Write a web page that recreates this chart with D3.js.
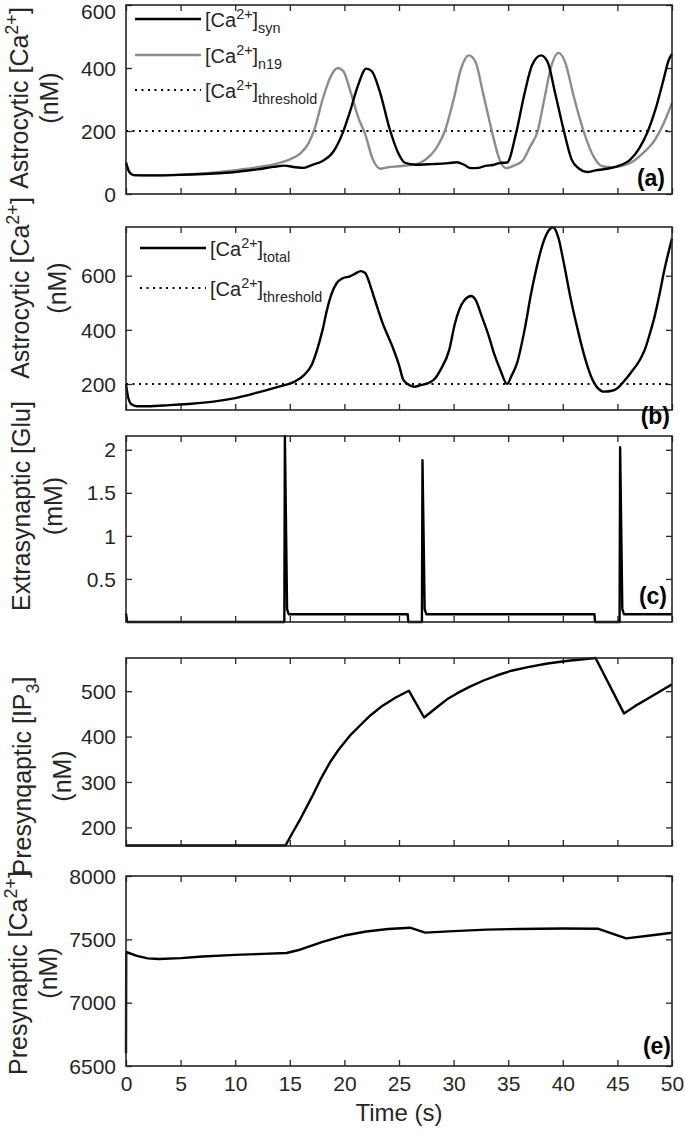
<!DOCTYPE html>
<html>
<head>
<meta charset="utf-8">
<script src="https://cdn.jsdelivr.net/npm/d3@7"></script>
<style>
  body { margin: 0; background: #fff; }
  svg { display: block; font-family: "Liberation Sans", Arial, Helvetica, sans-serif; }
</style>
</head>
<body>
<div id="chart"></div>
<script>
// time axis
const timeTicks = [0, 5, 10, 15, 20, 25, 30, 35, 40, 45, 50];
const threshold = 200;

// (a) astrocytic Ca2+, synaptic and n19
const caSyn = [[0,100],[0.3,70],[0.7,60],[2,59],[4,60],[6,62],[8,65],[10,70],[12,78],[13.5,86],[14.5,90],[15.5,85],[16.3,83],[17,92],[18,105],[19,135],[19.8,190],[20.5,260],[21.2,340],[22,398],[22.5,390],[23.2,330],[24.2,200],[25,125],[25.5,100],[26.5,93],[28,95],[29.5,98],[30.3,101],[31,92],[31.6,82],[32.3,83],[33,90],[33.6,92],[34.2,98],[34.9,100],[35.7,190],[36.5,320],[37.2,410],[38,440],[38.6,420],[39.3,320],[40.1,200],[40.8,110],[41.5,80],[42.2,70],[43,75],[44,80],[45,88],[46.2,110],[47,145],[47.8,200],[48.5,270],[49.2,360],[49.7,425],[50,445]];
const caN19 = [[0,100],[0.3,70],[0.7,60],[3,59],[6,63],[9,72],[12,85],[14,98],[15,110],[16,130],[16.7,160],[17.3,210],[18,300],[18.7,370],[19.4,400],[19.9,390],[20.6,320],[21.3,240],[21.9,190],[22.6,110],[23.3,80],[24,85],[25,88],[26,92],[27,100],[27.8,120],[28.5,150],[29.2,200],[30,300],[30.7,400],[31.4,440],[32,420],[32.7,320],[33.5,200],[34.2,110],[34.8,82],[35.5,90],[36.3,105],[37,150],[37.7,200],[38.3,300],[38.9,400],[39.6,448],[40.2,420],[41,310],[41.9,200],[42.8,120],[43.6,88],[44.5,85],[45.5,90],[46.5,105],[47.5,135],[48.3,165],[48.9,200],[49.5,245],[50,290]];

// (b) astrocytic Ca2+ total
const caTotal = [[0,200],[0.2,150],[0.5,125],[1,118],[2,118],[4,122],[6,127],[8,135],[10,148],[12,168],[14,190],[15.5,210],[16.3,233],[17,270],[17.5,326],[18,400],[18.4,473],[18.8,530],[19.3,573],[19.8,590],[20.5,598],[21,608],[21.5,617],[21.9,610],[22.4,560],[22.7,522],[23.5,425],[24.4,338],[25,270],[25.4,215],[26,195],[26.4,190],[27,196],[27.6,202],[28.3,220],[28.8,252],[29.6,326],[30.1,420],[30.5,473],[31,510],[31.6,525],[32,512],[32.6,448],[33.2,380],[33.7,313],[34.3,250],[34.9,200],[35.3,230],[35.8,276],[36.5,400],[37.1,535],[37.6,630],[38,695],[38.6,760],[39.1,779],[39.6,740],[40.1,645],[40.7,520],[41.3,412],[42,300],[42.6,227],[43.2,185],[43.8,172],[44.5,175],[45,184],[45.6,210],[46.2,240],[47,285],[47.5,326],[48,390],[48.4,448],[48.9,540],[49.3,621],[49.7,690],[50,738]];

// (c) extrasynaptic glutamate
const glu = [[0,0.1],[0.1,0],[14.5,0],[14.55,2.16],[14.75,0.15],[14.9,0.09],[25.8,0.09],[25.85,0],[27.1,0],[27.15,1.88],[27.35,0.15],[27.5,0.09],[42.9,0.09],[42.95,0],[45.2,0],[45.25,2.03],[45.45,0.15],[45.6,0.09],[50,0.09]];

// (d) presynaptic IP3
const ip3 = [[0,160],[14.6,160],[15.2,186],[16,220],[17,266],[17.8,305],[18.7,344],[19.5,372],[20.5,402],[21.5,426],[22.4,447],[23.5,468],[24.7,486],[25.9,501],[27.3,442],[28.5,465],[29.4,482],[30.3,495],[31.5,510],[32.8,524],[34,535],[35.3,545],[36.8,553],[38.6,561],[40.5,567],[43,573],[45.6,451],[46.6,467],[47.8,484],[49,501],[50,515]];

// (e) presynaptic Ca2+
const caPre = [[0,6600],[0.02,7400],[1,7370],[2,7350],[3,7345],[5,7352],[7,7365],[10,7377],[12.5,7385],[14.7,7392],[16,7420],[18,7480],[20,7530],[22,7562],[24,7582],[26,7592],[27.4,7553],[30,7565],[33,7577],[36,7582],[40,7585],[43.2,7584],[45.8,7508],[48,7530],[50,7552]];

const yTicksA = [0, 200, 400, 600];
const yTicksB = [200, 400, 600];
const yTicksC = [0.5, 1, 1.5, 2];
const yTicksD = [200, 300, 400, 500];
const yTicksE = [6500, 7000, 7500, 8000];

const W = 685, H = 1136;
const ink = '#262626';
const left = 126, right = 672;
const labelSize = 25;

const svg = d3.select('#chart').append('svg')
  .attr('width', W).attr('height', H);

const x = d3.scaleLinear().domain([0, 50]).range([left, right]);

function richText(sel, str, size) {
  const parts = str.split(/(\^\{[^}]*\}|_\{[^}]*\})/).filter(s => s.length);
  let shift = 0;
  parts.forEach(p => {
    let dy = 0, fs = size, txt = p;
    if (p.startsWith('^{')) { txt = p.slice(2, -1); fs = size * 0.72; dy = -size * 0.42; }
    else if (p.startsWith('_{')) { txt = p.slice(2, -1); fs = size * 0.72; dy = size * 0.3; }
    sel.append('tspan').attr('font-size', fs).attr('dy', dy - shift).text(txt);
    shift = dy;
  });
}

function panel(opt) {
  const y = d3.scaleLinear().domain(opt.domain).range([opt.bottom, opt.top]);
  const g = svg.append('g');

  // ticks on all four sides, pointing inward
  const tickStyle = a => {
    a.select('.domain').remove();
    a.selectAll('line').attr('stroke', ink).attr('stroke-width', 1.3);
    a.selectAll('text').attr('fill', ink).attr('font-size', 21)
      .attr('font-family', '"Liberation Sans", Arial, Helvetica, sans-serif');
  };
  g.append('g').attr('transform', `translate(0,${opt.bottom})`)
    .call(d3.axisBottom(x).tickValues(timeTicks).tickSizeInner(-6).tickSizeOuter(0)
      .tickPadding(10).tickFormat(opt.showX ? d3.format('d') : ''))
    .call(tickStyle);
  g.append('g').attr('transform', `translate(0,${opt.top})`)
    .call(d3.axisTop(x).tickValues(timeTicks).tickSizeInner(-6).tickSizeOuter(0).tickFormat(''))
    .call(tickStyle);
  const yAxis = g.append('g').attr('transform', `translate(${left},0)`)
    .call(d3.axisLeft(y).tickValues(opt.yTicks).tickSizeInner(-6).tickSizeOuter(0)
      .tickPadding(10).tickFormat(d3.format('')))
    .call(tickStyle);
  // keep the top label inside the page
  yAxis.selectAll('.tick text').attr('dy', d => y(d) < 12 ? '0.62em' : '0.34em');
  g.append('g').attr('transform', `translate(${right},0)`)
    .call(d3.axisRight(y).tickValues(opt.yTicks).tickSizeInner(-6).tickSizeOuter(0).tickFormat(''))
    .call(tickStyle);

  // threshold
  if (opt.threshold) {
    g.append('line')
      .attr('x1', x(0)).attr('x2', x(50))
      .attr('y1', y(threshold)).attr('y2', y(threshold))
      .attr('stroke', '#000').attr('stroke-width', 2).attr('stroke-dasharray', '2,4.5');
  }

  opt.series.forEach(s => {
    g.append('path')
      .datum(s.data)
      .attr('fill', 'none')
      .attr('stroke', s.color)
      .attr('stroke-width', 2.4)
      .attr('stroke-linejoin', 'round')
      .attr('d', d3.line().x(d => x(d[0])).y(d => y(d[1])).curve(s.curve || d3.curveLinear));
  });

  // box
  g.append('rect')
    .attr('x', left).attr('y', opt.top)
    .attr('width', right - left).attr('height', opt.bottom - opt.top)
    .attr('fill', 'none').attr('stroke', ink).attr('stroke-width', 1.6);

  // y label (two lines, rotated)
  opt.ylabel.forEach((line, i) => {
    const t = svg.append('text')
      .attr('transform', `translate(${opt.labelX[i]},${opt.labelY}) rotate(-90)`)
      .attr('text-anchor', 'middle')
      .attr('fill', ink)
      .attr('font-size', labelSize);
    richText(t, line, labelSize);
  });

  // panel tag
  if (opt.tag) {
    svg.append('text')
      .attr('x', opt.tagX).attr('y', opt.tagY)
      .attr('text-anchor', 'end')
      .attr('font-weight', 'bold')
      .attr('font-size', 23)
      .attr('fill', '#000')
      .text(opt.tag);
  }

  // legend
  if (opt.legend) {
    opt.legend.forEach(l => {
      svg.append('line')
        .attr('x1', opt.legendX).attr('x2', opt.legendX + 66)
        .attr('y1', l.y).attr('y2', l.y)
        .attr('stroke', l.color).attr('stroke-width', l.dash ? 2 : 2.4)
        .attr('stroke-dasharray', l.dash || null);
      const t = svg.append('text')
        .attr('x', opt.legendX + 70).attr('y', l.y + 8)
        .attr('fill', ink).attr('font-size', 20);
      richText(t, l.text, 20);
    });
  }
  return y;
}

panel({
  top: 5, bottom: 194, domain: [0, 600], yTicks: yTicksA, threshold: true,
  series: [
    { data: caN19, color: '#8c8c8c', curve: d3.curveMonotoneX },
    { data: caSyn, color: '#000', curve: d3.curveMonotoneX }
  ],
  ylabel: ['Astrocytic [Ca^{2+}]', '(nM)'], labelX: [28, 58], labelY: 98,
  tag: '(a)', tagX: 665, tagY: 186,
  legendX: 135,
  legend: [
    { y: 19, color: '#000', text: '[Ca^{2+}]_{syn}' },
    { y: 55, color: '#8c8c8c', text: '[Ca^{2+}]_{n19}' },
    { y: 90, color: '#000', dash: '2,4.5', text: '[Ca^{2+}]_{threshold}' }
  ]
});

panel({
  top: 227, bottom: 410, domain: [104, 780], yTicks: yTicksB, threshold: true,
  series: [{ data: caTotal, color: '#000', curve: d3.curveMonotoneX }],
  ylabel: ['Astrocytic [Ca^{2+}]', '(nM)'], labelX: [29, 66], labelY: 288,
  tag: '(b)', tagX: 670, tagY: 424,
  legendX: 140,
  legend: [
    { y: 248, color: '#000', text: '[Ca^{2+}]_{total}' },
    { y: 288, color: '#000', dash: '2,4.5', text: '[Ca^{2+}]_{threshold}' }
  ]
});

panel({
  top: 436, bottom: 622, domain: [0, 2.16], yTicks: yTicksC,
  series: [{ data: glu, color: '#000' }],
  ylabel: ['Extrasynaptic [Glu]', '(mM)'], labelX: [30, 62], labelY: 506,
  tag: '(c)', tagX: 667, tagY: 604
});

panel({
  top: 658, bottom: 846, domain: [159, 573], yTicks: yTicksD,
  series: [{ data: ip3, color: '#000' }],
  ylabel: ['Presynqaptic [IP_{3}]', '(nM)'], labelX: [31, 71], labelY: 776
});

panel({
  top: 876, bottom: 1066, domain: [6500, 8000], yTicks: yTicksE, showX: true,
  series: [{ data: caPre, color: '#000' }],
  ylabel: ['Presynaptic [Ca^{2+}]', '(nM)'], labelX: [27, 57], labelY: 973,
  tag: '(e)', tagX: 671, tagY: 1054
});

svg.append('text')
  .attr('x', x(25)).attr('y', 1121)
  .attr('text-anchor', 'middle')
  .attr('fill', ink).attr('font-size', 24)
  .text('Time (s)');
</script>
</body>
</html>
